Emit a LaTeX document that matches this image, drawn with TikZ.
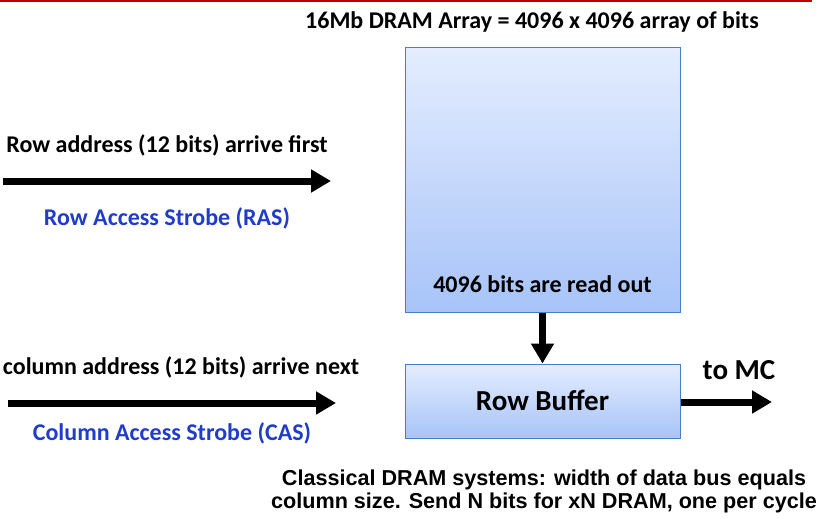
\documentclass[tikz,border=0pt]{standalone}
\usepackage{fontspec}
\newfontfamily\calfont{Carlito}
\newfontfamily\arifont{Liberation Sans}
\usetikzlibrary{arrows.meta}
\definecolor{edgeblue}{HTML}{4A7EC4}
\definecolor{toplight}{HTML}{E4EDFE}
\definecolor{botdark}{HTML}{A7C3F8}
\definecolor{strobeblue}{HTML}{1F3CCB}
\definecolor{topred}{HTML}{C00000}
\tikzset{
  memblock/.style={draw=edgeblue, line width=1pt, top color=toplight, bottom color=botdark, inner sep=0pt},
  caltext/.style={font=\calfont\bfseries\fontsize{24}{28}\selectfont, text=black, inner sep=0pt},
  bigtext/.style={font=\calfont\bfseries\fontsize{29}{34}\selectfont, text=black, inner sep=0pt},
  strobetext/.style={caltext, text=strobeblue},
  notetext/.style={font=\arifont\bfseries\fontsize{21.6}{23}\selectfont, align=center, inner sep=0pt},
  fatarrow/.style={line width=7pt, -{Triangle[length=20pt,width=22pt]}, shorten >=0pt}
}
\begin{document}
\begin{tikzpicture}[x=1pt,y=-1pt]
\useasboundingbox (0,0) rectangle (819,519);
\draw[topred, line width=2pt] (0,1) -- (812,1);
% boxes
\node[memblock, minimum width=275pt, minimum height=264pt] (array) at (542.5,180) {};
\node[memblock, minimum width=275pt, minimum height=74pt] (rowbuf) at (542.5,401) {};
\node[bigtext] (rbtext) at (542.5,400) {Row Buffer};
\node[caltext] (readout) at (542.5,284) {4096 bits are read out};
\node[caltext] (title) at (532,22) {16Mb DRAM Array = 4096 x 4096 array of bits};
% left labels
\node[caltext] (rowaddr) at (167,145) {Row address (12 bits) arrive first};
\node[strobetext] (ras) at (167,218) {Row Access Strobe (RAS)};
\node[caltext] (coladdr) at (181,367) {column address (12 bits) arrive next};
\node[strobetext] (cas) at (172,433) {Column Access Strobe (CAS)};
\node[bigtext] (tomc) at (739,370) {to MC};
\node[notetext] (note) at (544,491) {Classical DRAM systems: width of data bus equals\\column size. Send N bits for xN DRAM, one per cycle};
% arrow endpoints
\coordinate (rowstart) at (3,181);
\coordinate (rowend) at (331,181);
\coordinate (colstart) at (8,403);
\coordinate (colend) at (336,403);
\coordinate (mcend) at (772,402);
\draw[fatarrow] (rowstart) -- (rowend);
\draw[fatarrow] (colstart) -- (colend);
\draw[fatarrow] (array.south) -- (rowbuf.north);
\draw[fatarrow] (rowbuf.east |- mcend) -- (mcend);
\end{tikzpicture}
\end{document}
